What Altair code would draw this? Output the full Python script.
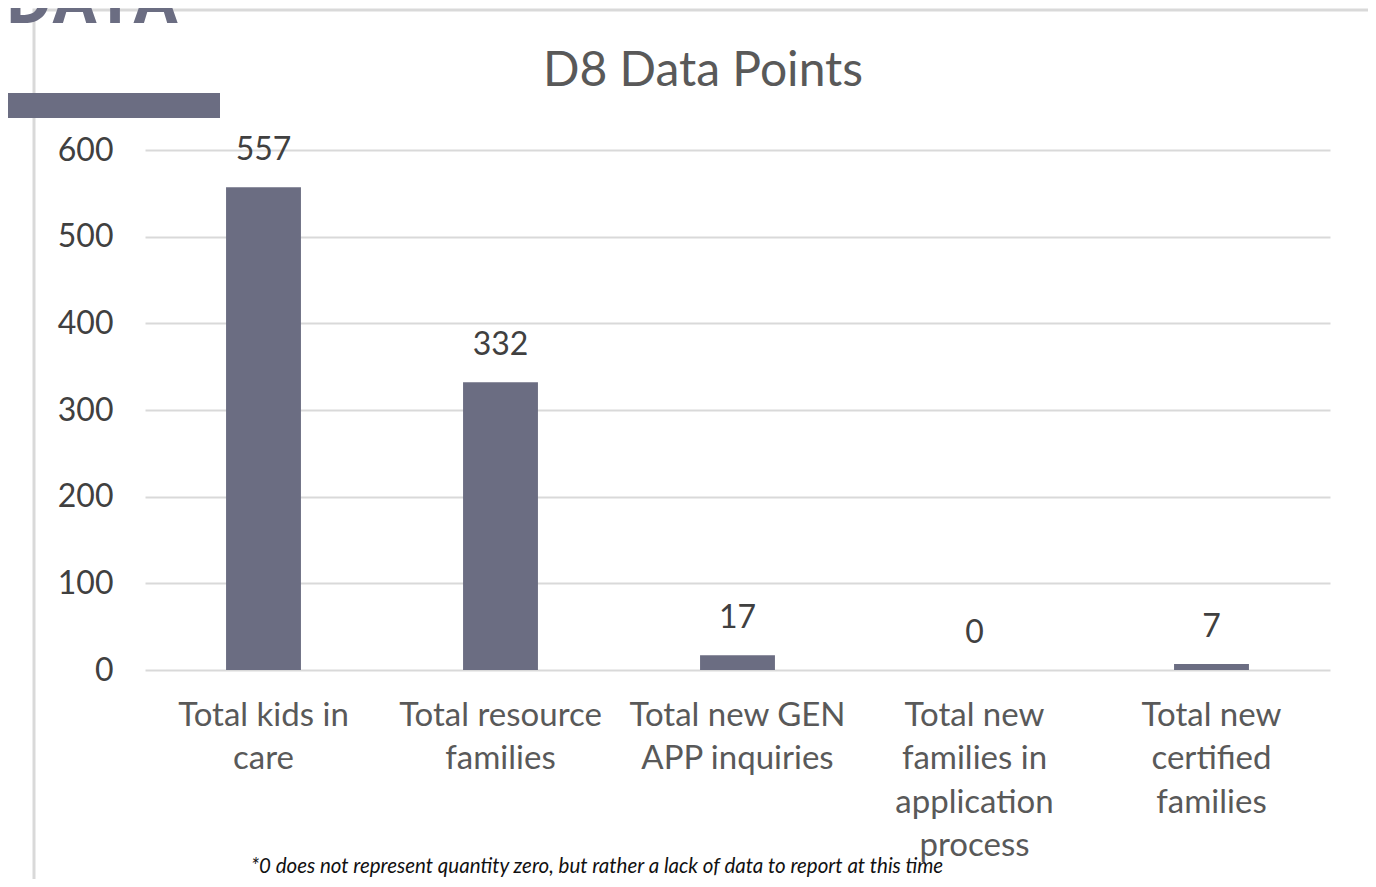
import altair as alt
import pandas as pd

categories = [
    "Total kids in care",
    "Total resource families",
    "Total new GEN APP inquiries",
    "Total new families in application process",
    "Total new certified families",
]
values = [557, 332, 17, 0, 7]
wrapped_labels = [
    "Total kids in\ncare",
    "Total resource\nfamilies",
    "Total new GEN\nAPP inquiries",
    "Total new\nfamilies in\napplication\nprocess",
    "Total new\ncertified\nfamilies",
]
y_ticks = [0, 100, 200, 300, 400, 500, 600]
title_text = "D8 Data Points"
header_text = "DATA"
footnote_text = "*0 does not represent quantity zero, but rather a lack of data to report at this time"

BAR = "#6B6D82"
TXT = "#595959"
FONT = "Lato"

df = pd.DataFrame({"category": categories, "value": values, "label": wrapped_labels})
one = pd.DataFrame({"k": [0]})

xscale = alt.Scale(domain=categories, paddingInner=0.684, paddingOuter=0.342)
yscale = alt.Scale(domain=[0, 600])

bars = alt.Chart(df).mark_bar(color=BAR).encode(
    x=alt.X("category:N", scale=xscale, sort=categories, axis=None),
    y=alt.Y("value:Q", scale=yscale,
            axis=alt.Axis(values=y_ticks, title=None, domain=False, ticks=False,
                          grid=True, gridColor="#d9d9d9", gridWidth=2,
                          labelFont=FONT, labelFontSize=32, labelColor="#404040",
                          labelPadding=32)),
)

value_text = alt.Chart(df).mark_text(
    font=FONT, fontSize=32, color="#404040", baseline="middle", dy=-37
).encode(
    x=alt.X("category:N", scale=xscale, sort=categories),
    y=alt.Y("value:Q", scale=yscale),
    text=alt.Text("value:Q"),
)

cat_text = alt.Chart(df).mark_text(
    font=FONT, fontSize=33, color=TXT, baseline="top", lineBreak="\n", lineHeight=43.3
).encode(
    x=alt.X("category:N", scale=xscale, sort=categories),
    y=alt.value(550),
    text="label:N",
)

title = alt.Chart(one).mark_text(
    font=FONT, fontSize=48, color=TXT, baseline="middle", align="center"
).encode(x=alt.value(558), y=alt.value(-78), text=alt.value(title_text))

footnote = alt.Chart(one).mark_text(
    font=FONT, fontSize=20.5, fontStyle="italic", color="#111111", baseline="middle", align="center"
).encode(x=alt.value(452), y=alt.value(717), text=alt.value(footnote_text))

header = alt.Chart(one).mark_text(
    font="Open Sans", fontSize=64, fontWeight="bold", color=BAR, baseline="alphabetic", align="left"
).encode(x=alt.value(-140), y=alt.value(-127), text=alt.value(header_text))

header_bar = alt.Chart(one).mark_rect(color=BAR).encode(
    x=alt.value(-137), x2=alt.value(75), y=alt.value(-57), y2=alt.value(-32)
)

border = alt.Chart(one).mark_rect(fill=None, stroke="#d9d9d9", strokeWidth=3).encode(
    x=alt.value(-111), x2=alt.value(1226), y=alt.value(-140), y2=alt.value(760)
)

chart = alt.layer(border, header_bar, header, title, bars, value_text, cat_text, footnote).properties(
    width=1185, height=520,
    autosize=alt.AutoSizeParams(type="none"),
    padding={"left": 137, "top": 142, "right": 38, "bottom": 209},
).configure_view(stroke=None)

chart.save("out.html", embed_options={"renderer": "svg", "actions": False})
